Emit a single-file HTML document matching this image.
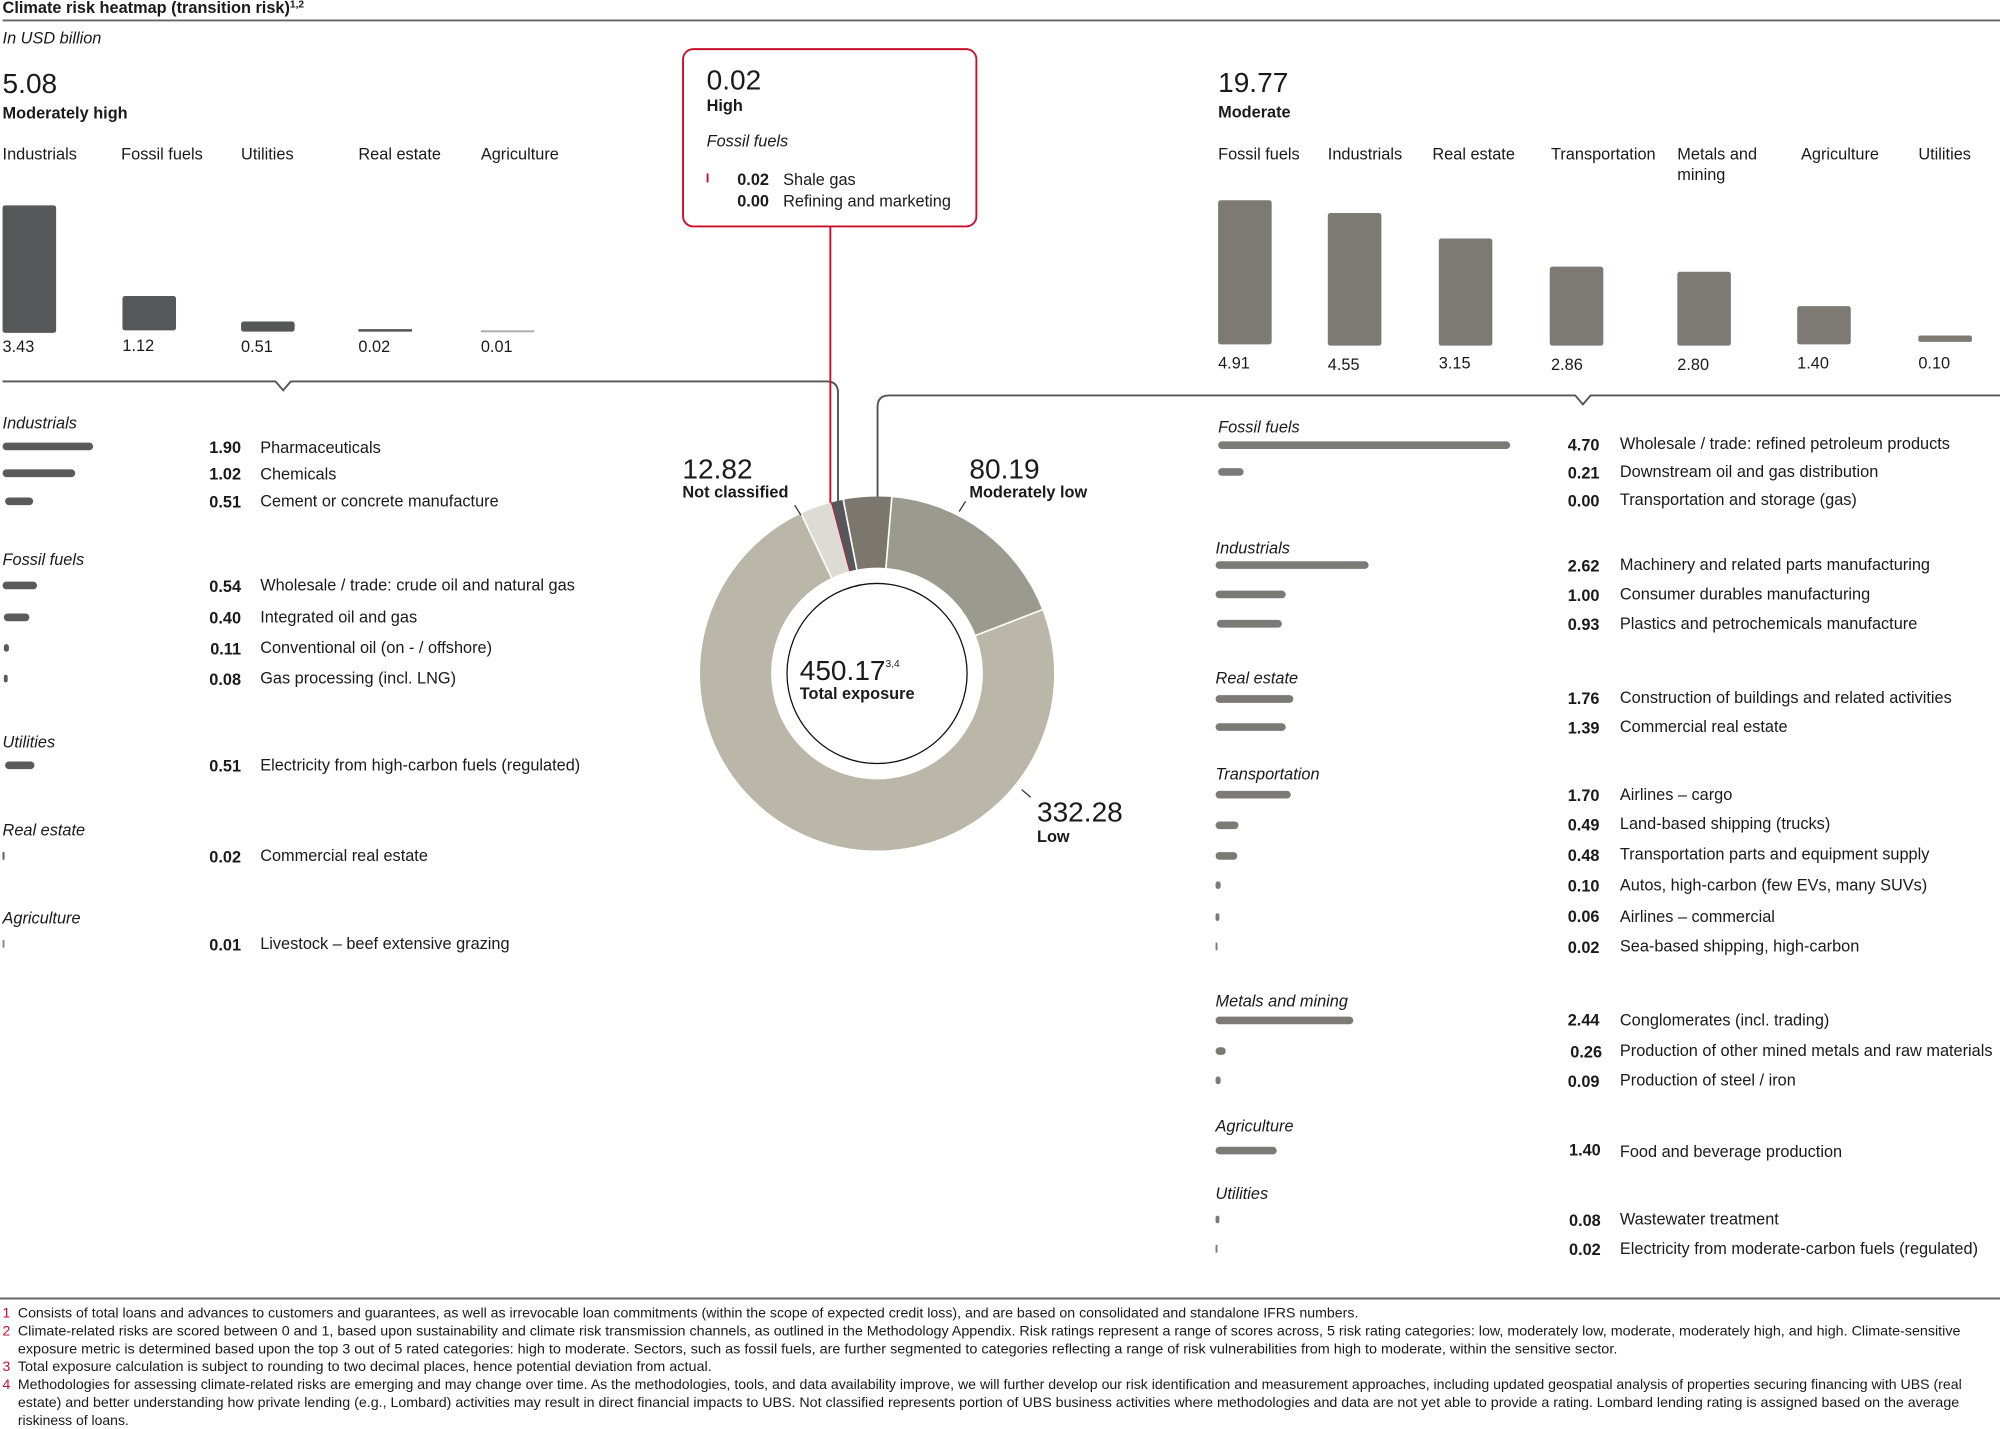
<!DOCTYPE html>
<html><head><meta charset="utf-8"><style>
html,body{margin:0;padding:0;background:#fff;}
svg{display:block;}
text{font-family:"Liberation Sans Narrow","Liberation Sans",sans-serif;fill:#1a1a1a;}
.t{font-size:12.8px;}
.b{font-weight:bold;}
.i{font-style:italic;}
.big{font-size:22px;}
.fn{font-size:11px;}
.r{fill:#c8102e;}
</style></head><body>
<svg width="2000" height="1429" viewBox="0 0 1568 1120.3" xmlns="http://www.w3.org/2000/svg">
<text x="2" y="10" class="t b">Climate risk heatmap (transition risk)<tspan font-size="8" dy="-4">1,2</tspan></text>
<line x1="2" y1="16" x2="1568" y2="16" stroke="#666" stroke-width="1.5"/>
<text x="2" y="34" class="t i">In USD billion</text>

<text x="2" y="73" class="big">5.08</text>
<text x="2" y="93" class="t b">Moderately high</text>
<text x="2" y="125" class="t">Industrials</text>
<text x="95" y="125" class="t">Fossil fuels</text>
<text x="189" y="125" class="t">Utilities</text>
<text x="281" y="125" class="t">Real  estate</text>
<text x="377" y="125" class="t">Agriculture</text>
<g fill="#565759">
<rect x="2" y="161" width="42" height="100" rx="2"/>
<rect x="96" y="232" width="42" height="27" rx="2"/>
<rect x="189" y="252" width="42" height="8" rx="2"/>
<rect x="281" y="258" width="42" height="2"/>
</g>
<rect x="377" y="259" width="42" height="1.5" fill="#aaa"/>
<text x="2" y="276" class="t">3.43</text>
<text x="96" y="275" class="t">1.12</text>
<text x="189" y="276" class="t">0.51</text>
<text x="281" y="276" class="t">0.02</text>
<text x="377" y="276" class="t">0.01</text>

<path d="M2 299 H216 L222 306 L228 299 H648 Q657 299 657 308 V394" fill="none" stroke="#555" stroke-width="1.5"/>
<path d="M688 394 V319 Q688 310 697 310 H1235 L1241 317 L1247 310 H1568" fill="none" stroke="#555" stroke-width="1.5"/>

<rect x="535.5" y="38.5" width="230" height="139" rx="8" fill="#fff" stroke="#c8102e" stroke-width="1.5"/>
<line x1="651" y1="177" x2="651" y2="396" stroke="#c8102e" stroke-width="1.5"/>
<text x="554" y="70" class="big">0.02</text>
<text x="554" y="87" class="t b">High</text>
<text x="554" y="115" class="t i">Fossil fuels</text>
<rect x="554" y="136" width="1.5" height="7" fill="#c8102e"/>
<text x="578" y="145" class="t b">0.02</text>
<text x="614" y="145" class="t">Shale gas</text>
<text x="578" y="162" class="t b">0.00</text>
<text x="614" y="162" class="t">Refining and marketing</text>

<g fill="none" stroke-width="55.8">
<circle cx="687.6" cy="528" r="110.9" stroke="#7b776f" stroke-dasharray="30.58 700" transform="rotate(-101 687.6 528)"/>
<circle cx="687.6" cy="528" r="110.9" stroke="#9b9a8f" stroke-dasharray="124.07 700" transform="rotate(-85.2 687.6 528)"/>
<circle cx="687.6" cy="528" r="110.9" stroke="#bab6a8" stroke-dasharray="514.28 700" transform="rotate(-21.1 687.6 528)"/>
<circle cx="687.6" cy="528" r="110.9" stroke="#dddcd4" stroke-dasharray="19.84 700" transform="rotate(244.6 687.6 528)"/>
<circle cx="687.6" cy="528" r="110.9" stroke="#c8102e" stroke-dasharray="0.9 700" transform="rotate(254.85 687.6 528)"/>
<circle cx="687.6" cy="528" r="110.9" stroke="#55575a" stroke-dasharray="7.36 700" transform="rotate(255.2 687.6 528)"/>
</g>
<g stroke="#fff" stroke-width="1.3">
<line x1="687.6" y1="445" x2="687.6" y2="388" transform="rotate(-11 687.6 528)"/>
<line x1="687.6" y1="445" x2="687.6" y2="388" transform="rotate(4.8 687.6 528)"/>
<line x1="687.6" y1="445" x2="687.6" y2="388" transform="rotate(68.9 687.6 528)"/>
<line x1="687.6" y1="445" x2="687.6" y2="388" transform="rotate(334.6 687.6 528)"/>
</g>
<circle cx="687.6" cy="528" r="70.6" fill="none" stroke="#111" stroke-width="1"/>
<text x="627" y="533" class="big">450.17<tspan font-size="8" dy="-10">3,4</tspan></text>
<text x="627" y="548" class="t b">Total exposure</text>

<text x="535" y="375" class="big">12.82</text>
<text x="535" y="390" class="t b">Not classified</text>
<line x1="623" y1="396" x2="628" y2="404" stroke="#333"/>
<text x="760" y="375" class="big">80.19</text>
<text x="760" y="390" class="t b">Moderately low</text>
<line x1="757" y1="393" x2="752" y2="401" stroke="#333"/>
<text x="813" y="644" class="big">332.28</text>
<text x="813" y="660" class="t b">Low</text>
<line x1="801" y1="619" x2="808" y2="625" stroke="#333"/>

<text x="955" y="72" class="big">19.77</text>
<text x="955" y="92" class="t b">Moderate</text>
<text x="955" y="125" class="t">Fossil fuels</text>
<text x="1041" y="125" class="t">Industrials</text>
<text x="1123" y="125" class="t">Real estate</text>
<text x="1216" y="125" class="t">Transportation</text>
<text x="1315" y="125" class="t">Metals and</text>
<text x="1315" y="141" class="t">mining</text>
<text x="1412" y="125" class="t">Agriculture</text>
<text x="1504" y="125" class="t">Utilities</text>
<g fill="#7c7a73">
<rect x="955" y="157" width="42" height="113" rx="2"/>
<rect x="1041" y="167" width="42" height="104" rx="2"/>
<rect x="1128" y="187" width="42" height="84" rx="2"/>
<rect x="1215" y="209" width="42" height="62" rx="2"/>
<rect x="1315" y="213" width="42" height="58" rx="2"/>
<rect x="1409" y="240" width="42" height="30" rx="2"/>
<rect x="1504" y="263" width="42" height="5" rx="1.5"/>
</g>
<text x="955" y="289" class="t">4.91</text>
<text x="1041" y="290" class="t">4.55</text>
<text x="1128" y="289" class="t">3.15</text>
<text x="1216" y="290" class="t">2.86</text>
<text x="1315" y="290" class="t">2.80</text>
<text x="1409" y="289" class="t">1.40</text>
<text x="1504" y="289" class="t">0.10</text>

<g fill="#5a5a5c">
<rect x="2" y="347" width="71" height="6" rx="3"/>
<rect x="2" y="368" width="57" height="6" rx="3"/>
<rect x="4" y="390" width="22" height="6" rx="3"/>
<rect x="2" y="456" width="27" height="6" rx="3"/>
<rect x="3" y="481" width="20" height="6" rx="3"/>
<rect x="3" y="505" width="4" height="6" rx="2"/>
<rect x="3" y="529" width="3" height="6" rx="1.5"/>
<rect x="4" y="597" width="23" height="6" rx="3"/>
<rect x="2" y="668" width="1.5" height="6"/>
<rect x="2" y="737" width="1.5" height="6" fill="#888"/>
</g>
<text x="2" y="336" class="t i">Industrials</text>
<text x="189" y="355" class="t b" text-anchor="end">1.90</text><text x="204" y="355" class="t">Pharmaceuticals</text>
<text x="189" y="376" class="t b" text-anchor="end">1.02</text><text x="204" y="376" class="t">Chemicals</text>
<text x="189" y="398" class="t b" text-anchor="end">0.51</text><text x="204" y="397" class="t">Cement or concrete manufacture</text>
<text x="2" y="443" class="t i">Fossil fuels</text>
<text x="189" y="464" class="t b" text-anchor="end">0.54</text><text x="204" y="463" class="t">Wholesale / trade: crude oil and natural gas</text>
<text x="189" y="489" class="t b" text-anchor="end">0.40</text><text x="204" y="488" class="t">Integrated oil and gas</text>
<text x="189" y="513" class="t b" text-anchor="end">0.11</text><text x="204" y="512" class="t">Conventional oil (on - / offshore)</text>
<text x="189" y="537" class="t b" text-anchor="end">0.08</text><text x="204" y="536" class="t">Gas processing (incl. LNG)</text>
<text x="2" y="586" class="t i">Utilities</text>
<text x="189" y="605" class="t b" text-anchor="end">0.51</text><text x="204" y="604" class="t">Electricity from high-carbon fuels (regulated)</text>
<text x="2" y="655" class="t i">Real estate</text>
<text x="189" y="676" class="t b" text-anchor="end">0.02</text><text x="204" y="675" class="t">Commercial real estate</text>
<text x="2" y="724" class="t i">Agriculture</text>
<text x="189" y="745" class="t b" text-anchor="end">0.01</text><text x="204" y="744" class="t">Livestock – beef extensive grazing</text>

<g fill="#7b7a76">
<rect x="955" y="346" width="229" height="6" rx="3"/>
<rect x="955" y="367" width="20" height="6" rx="3"/>
<rect x="953" y="440" width="120" height="6" rx="3"/>
<rect x="953" y="463" width="55" height="6" rx="3"/>
<rect x="954" y="486" width="51" height="6" rx="3"/>
<rect x="953" y="545" width="61" height="6" rx="3"/>
<rect x="953" y="567" width="55" height="6" rx="3"/>
<rect x="953" y="620" width="59" height="6" rx="3"/>
<rect x="953" y="644" width="18" height="6" rx="3"/>
<rect x="953" y="668" width="17" height="6" rx="3"/>
<rect x="953" y="691" width="4" height="6" rx="2"/>
<rect x="953" y="716" width="3" height="6" rx="1.5"/>
<rect x="953" y="739" width="1.5" height="6"/>
<rect x="953" y="797" width="108" height="6" rx="3"/>
<rect x="953" y="821" width="8" height="6" rx="3"/>
<rect x="953" y="844" width="4" height="6" rx="2"/>
<rect x="953" y="899" width="48" height="6" rx="3"/>
<rect x="953" y="953" width="3" height="6" rx="1.5"/>
<rect x="953" y="976" width="1.5" height="6"/>
</g>
<text x="955" y="339" class="t i">Fossil fuels</text>
<text x="1254" y="353" class="t b" text-anchor="end">4.70</text><text x="1270" y="352" class="t">Wholesale / trade: refined petroleum products</text>
<text x="1254" y="375" class="t b" text-anchor="end">0.21</text><text x="1270" y="374" class="t">Downstream oil and gas distribution</text>
<text x="1254" y="397" class="t b" text-anchor="end">0.00</text><text x="1270" y="396" class="t">Transportation and storage (gas)</text>
<text x="953" y="434" class="t i">Industrials</text>
<text x="1254" y="448" class="t b" text-anchor="end">2.62</text><text x="1270" y="447" class="t">Machinery and related parts manufacturing</text>
<text x="1254" y="471" class="t b" text-anchor="end">1.00</text><text x="1270" y="470" class="t">Consumer durables manufacturing</text>
<text x="1254" y="494" class="t b" text-anchor="end">0.93</text><text x="1270" y="493" class="t">Plastics and petrochemicals manufacture</text>
<text x="953" y="536" class="t i">Real estate</text>
<text x="1254" y="552" class="t b" text-anchor="end">1.76</text><text x="1270" y="551" class="t">Construction of buildings and related activities</text>
<text x="1254" y="575" class="t b" text-anchor="end">1.39</text><text x="1270" y="574" class="t">Commercial real estate</text>
<text x="953" y="611" class="t i">Transportation</text>
<text x="1254" y="628" class="t b" text-anchor="end">1.70</text><text x="1270" y="627" class="t">Airlines – cargo</text>
<text x="1254" y="651" class="t b" text-anchor="end">0.49</text><text x="1270" y="650" class="t">Land-based shipping (trucks)</text>
<text x="1254" y="675" class="t b" text-anchor="end">0.48</text><text x="1270" y="674" class="t">Transportation parts and equipment supply</text>
<text x="1254" y="699" class="t b" text-anchor="end">0.10</text><text x="1270" y="698" class="t">Autos, high-carbon (few EVs, many SUVs)</text>
<text x="1254" y="723" class="t b" text-anchor="end">0.06</text><text x="1270" y="723" class="t">Airlines – commercial</text>
<text x="1254" y="747" class="t b" text-anchor="end">0.02</text><text x="1270" y="746" class="t">Sea-based shipping, high-carbon</text>
<text x="953" y="789" class="t i">Metals and mining</text>
<text x="1254" y="804" class="t b" text-anchor="end">2.44</text><text x="1270" y="804" class="t">Conglomerates (incl. trading)</text>
<text x="1256" y="829" class="t b" text-anchor="end">0.26</text><text x="1270" y="828" class="t">Production of other mined metals and raw materials</text>
<text x="1254" y="852" class="t b" text-anchor="end">0.09</text><text x="1270" y="851" class="t">Production of steel / iron</text>
<text x="953" y="887" class="t i">Agriculture</text>
<text x="1255" y="906" class="t b" text-anchor="end">1.40</text><text x="1270" y="907" class="t">Food and beverage production</text>
<text x="953" y="940" class="t i">Utilities</text>
<text x="1255" y="961" class="t b" text-anchor="end">0.08</text><text x="1270" y="960" class="t">Wastewater treatment</text>
<text x="1255" y="984" class="t b" text-anchor="end">0.02</text><text x="1270" y="983" class="t">Electricity from moderate-carbon fuels (regulated)</text>

<line x1="0" y1="1018" x2="1568" y2="1018" stroke="#666" stroke-width="1.5"/>
<text x="2" y="1033" class="fn r">1</text>
<text x="14" y="1033" class="fn" textLength="1051" lengthAdjust="spacingAndGlyphs">Consists of total loans and advances to customers and guarantees, as well as irrevocable loan commitments (within the scope of expected credit loss), and are based on consolidated and standalone IFRS numbers.</text>
<text x="2" y="1047" class="fn r">2</text>
<text x="14" y="1047" class="fn" textLength="1523" lengthAdjust="spacingAndGlyphs">Climate-related risks are scored between 0 and 1, based upon sustainability and climate risk transmission channels, as outlined in the Methodology Appendix. Risk ratings represent a range of scores across, 5 risk rating categories: low, moderately low, moderate, moderately high, and high. Climate-sensitive</text>
<text x="14" y="1061" class="fn" textLength="1254" lengthAdjust="spacingAndGlyphs">exposure metric is determined based upon the top 3 out of 5 rated categories: high to moderate. Sectors, such as fossil fuels, are further segmented to categories reflecting a range of risk vulnerabilities from high to moderate, within the sensitive sector.</text>
<text x="2" y="1075" class="fn r">3</text>
<text x="14" y="1075" class="fn" textLength="544" lengthAdjust="spacingAndGlyphs">Total exposure calculation is subject to rounding to two decimal places, hence potential deviation from actual.</text>
<text x="2" y="1089" class="fn r">4</text>
<text x="14" y="1089" class="fn" textLength="1524" lengthAdjust="spacingAndGlyphs">Methodologies for assessing climate-related risks are emerging and may change over time. As the methodologies, tools, and data availability improve, we will further develop our risk identification and measurement approaches, including updated geospatial analysis of properties securing financing with UBS (real</text>
<text x="14" y="1103" class="fn" textLength="1522" lengthAdjust="spacingAndGlyphs">estate) and better understanding how private lending (e.g., Lombard) activities may result in direct financial impacts to UBS. Not classified represents portion of UBS business activities where methodologies and data are not yet able to provide a rating. Lombard lending rating is assigned based on the average</text>
<text x="14" y="1117" class="fn" textLength="87" lengthAdjust="spacingAndGlyphs">riskiness of loans.</text>
</svg>
</body></html>
